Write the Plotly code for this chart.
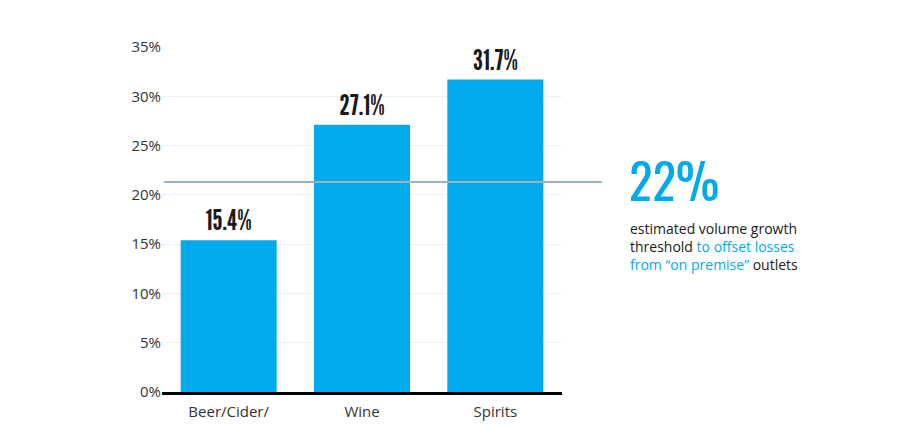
import plotly.graph_objects as go

categories = ["Beer/Cider/<br>FMB", "Wine", "Spirits"]
values = [15.4, 27.1, 31.7]
tick_vals = [0, 5, 10, 15, 20, 25, 30, 35]
tick_text = ["0%", "5%", "10%", "15%", "20%", "25%", "30%", "35%"]
threshold_line = 21.3
threshold_label = "22%"

BLUE = "#00AAEB"
NARROW = "League Gothic, Oswald, sans-serif"
COND = "Oswald, League Gothic, sans-serif"

fig = go.Figure()
fig.add_trace(go.Bar(
    x=categories, y=values,
    marker=dict(color=BLUE, line=dict(width=0)),
    text=[f"{v}%" for v in values],
    textposition="outside",
    textfont=dict(family=NARROW, size=29, color="#1a1a1a"),
    cliponaxis=False,
    width=0.72,
))

fig.add_shape(type="line", xref="paper", yref="y",
              x0=0.005, x1=1.1, y0=threshold_line, y1=threshold_line,
              line=dict(color="#9FB0B8", width=2), layer="above")

fig.add_annotation(xref="paper", yref="paper", x=1.162, y=0.617,
                   xanchor="left", yanchor="middle", showarrow=False,
                   text=threshold_label,
                   font=dict(family=COND, size=49, color=BLUE))
fig.add_annotation(xref="paper", yref="paper", x=1.165, y=0.421,
                   xanchor="left", yanchor="middle", showarrow=False, align="left",
                   text=("estimated volume growth<br>threshold "
                         f"<span style='color:{BLUE}'>to offset losses</span><br>"
                         f"<span style='color:{BLUE}'>from “on premise”</span> outlets"),
                   font=dict(family="Open Sans, sans-serif", size=14, color="#1a1a1a"))

fig.update_layout(
    width=912, height=417,
    margin=dict(l=154, r=358, t=39, b=33),
    paper_bgcolor="white", plot_bgcolor="white",
    showlegend=False,
    font=dict(family="Open Sans, sans-serif", size=15, color="#333333"),
    xaxis=dict(showline=True, linecolor="#000000", linewidth=3, automargin=False,
               ticklabelstandoff=4,
               tickfont=dict(size=15, color="#333333"), ticks="", showgrid=False),
    yaxis=dict(range=[0, 35], tickvals=tick_vals, ticktext=tick_text, automargin=False,
               showgrid=True, gridcolor="#EEEEEE", gridwidth=1,
               zeroline=False, ticks="", tickfont=dict(size=15, color="#333333")),
)

fig.write_html("out.html")
